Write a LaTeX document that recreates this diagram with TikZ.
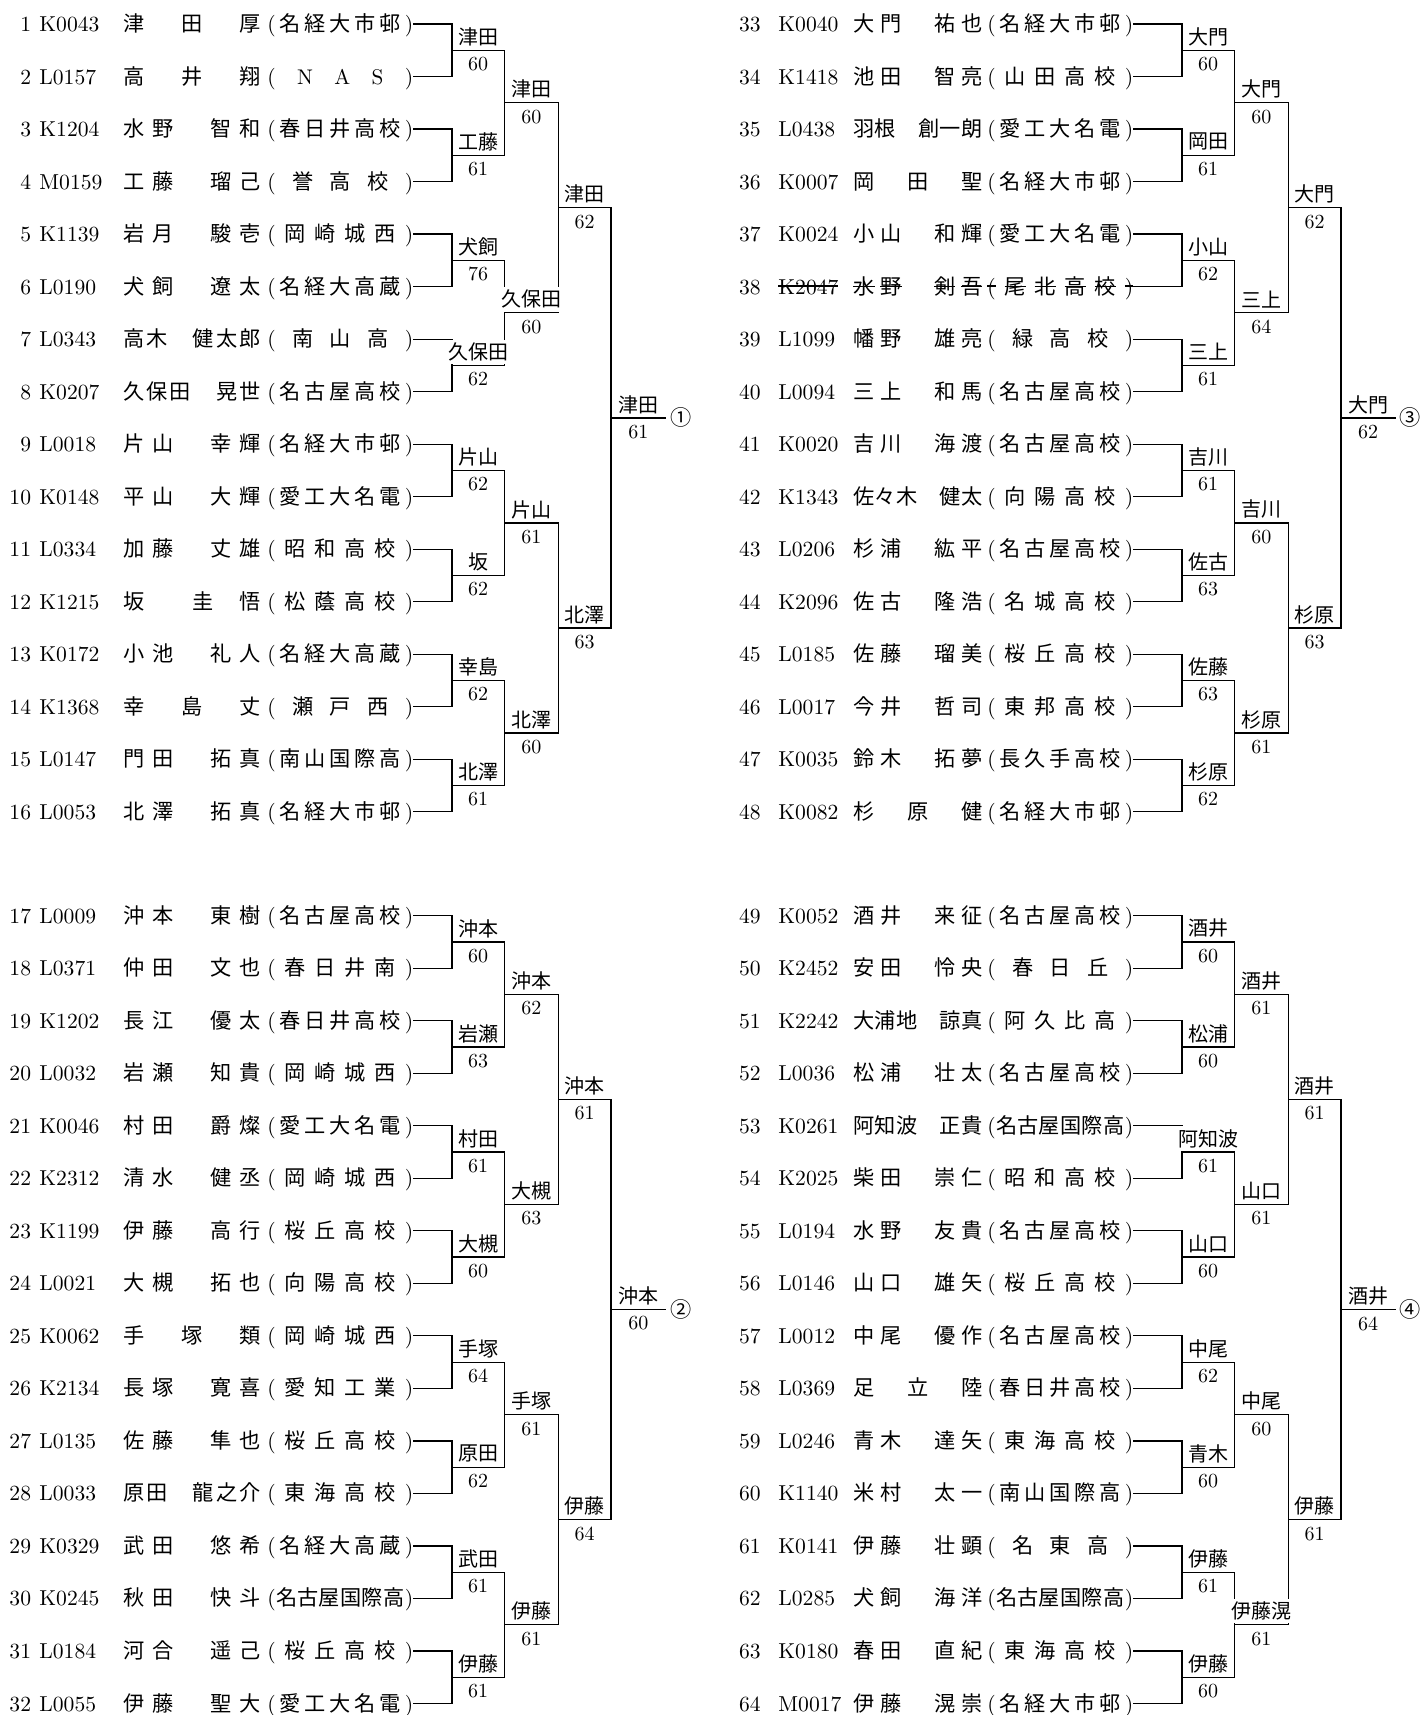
\documentclass[tikz,border=0pt]{standalone}
\usepackage{fontspec}
\newfontfamily\jp{Noto Sans CJK JP}
\usetikzlibrary{calc}
\pgfdeclarelayer{fg}
\pgfsetlayers{main,fg}
\newcommand\jpr{\jp\fontsize{10.6}{13}\selectfont}
\def\chk#1{#1}
\def\stk#1{\setbox0\hbox{#1}\rlap{\rule[0.34em]{\wd0}{0.65pt}}\box0}
\def\spread#1{\spreadB#1\relax}
\def\spreadB#1{\spreadX{#1}\spreadC}
\def\spreadC#1{\ifx\relax#1\else\hfill\spreadX{#1}\expandafter\spreadC\fi}
\def\spreadX#1{\ifx-#1\hbox to 1em{}\else\chk{#1}\fi}
\def\affsp#1{\affA#1\relax}
\def\affA#1{\ifx\relax#1\hfill\else\hfill\chk{#1}\expandafter\affA\fi}
\def\colLa{452}\def\colLb{504.3}\def\colLc{558.3}\def\colLd{611}\def\colLe{665.7}
\def\colRa{1182}\def\colRb{1234.3}\def\colRc{1288.3}\def\colRd{1341}\def\colRe{1395.2}
\tikzset{
 ln/.style={line width=0.6pt, line cap=rect},
 rt/.style={inner sep=0pt, font=\fontsize{10.8}{13}\selectfont},
 lbl/.style={anchor=south, fill=white, inner sep=0pt, minimum height=12.2pt, yshift=0.45pt, font=\jp\fontsize{10}{12}\selectfont},
 scr/.style={anchor=north, inner sep=0pt, minimum height=12.6pt, yshift=-0.45pt, font=\fontsize{10}{12}\selectfont},
 circ/.style={anchor=west, inner sep=0pt, xshift=2pt, font=\jp\fontsize{10.6}{12}\selectfont}
}
\newcommand\rowL[6][]{%
 \pgfmathsetmacro\yy{\ybase+#2*52.52}%
 \coordinate (p#3) at (\colLa,\yy);
 \node[rt,anchor=base east] (n#3) at (31.5,{\yy+7.5}) {#3};
 \node[rt,anchor=base west] (c#3) at (39,{\yy+7.5}) {#1\chk{#4}};
 \node[rt,anchor=base west] (m#3) at (123,{\yy+7.5}) {#1\jpr\makebox[68.5pt][l]{\spread{#5}}};
 \node[rt,anchor=base west] (a#3) at (267,{\yy+7.5}) {#1\chk{(}\makebox[64.5pt]{\jpr\affsp{#6}}\chk{)}};
 \draw[ln] (a#3.east |- p#3) -- (p#3);
}
\newcommand\rowR[6][]{%
 \pgfmathsetmacro\yy{\ybase+#2*52.52}%
 \coordinate (p#3) at (\colRa,\yy);
 \node[rt,anchor=base east] (n#3) at (761,{\yy+7.5}) {#3};
 \node[rt,anchor=base west] (c#3) at (778,{\yy+7.5}) {#1\chk{#4}};
 \node[rt,anchor=base west] (m#3) at (853,{\yy+7.5}) {#1\jpr\makebox[64.5pt][l]{\spread{#5}}};
 \node[rt,anchor=base west] (a#3) at (987,{\yy+7.5}) {#1\chk{(}\makebox[64.5pt]{\jpr\affsp{#6}}\chk{)}};
 \draw[ln] (a#3.east |- p#3) -- (p#3);
}
\newcommand\bmatch[6]{%
 \draw[ln] (#1) -- (#2);
 \coordinate (#3s) at ($(#1)!0.5!(#2)$);
 \coordinate (#3) at (#3s -| #4,0);
 \draw[ln] (#3s) -- (#3);
 \begin{pgfonlayer}{fg}
 \node[lbl] (#3l) at ($(#3s)!0.5!(#3)$) {#5};
 \node[scr] (#3n) at ($(#3s)!0.5!(#3)$) {#6};
 \end{pgfonlayer}}
\begin{document}
\begin{tikzpicture}[x=0.5pt,y=-0.5pt]
\fill[white] (0,0) rectangle (1421,1715);
\useasboundingbox (0,0) rectangle (1421,1715);
% ---------- top left ----------
\def\ybase{24}
\rowL{0}{1}{K0043}{津-田-厚}{名経大市邨}
\rowL{1}{2}{L0157}{高-井-翔}{{\rmfamily N}{\rmfamily A}{\rmfamily S}}
\rowL{2}{3}{K1204}{水野-智和}{春日井高校}
\rowL{3}{4}{M0159}{工藤-瑠己}{誉高校}
\rowL{4}{5}{K1139}{岩月-駿壱}{岡崎城西}
\rowL{5}{6}{L0190}{犬飼-遼太}{名経大高蔵}
\rowL{6}{7}{L0343}{高木-健太郎}{南山高}
\rowL{7}{8}{K0207}{久保田-晃世}{名古屋高校}
\rowL{8}{9}{L0018}{片山-幸輝}{名経大市邨}
\rowL{9}{10}{K0148}{平山-大輝}{愛工大名電}
\rowL{10}{11}{L0334}{加藤-丈雄}{昭和高校}
\rowL{11}{12}{K1215}{坂--圭-悟}{松蔭高校}
\rowL{12}{13}{K0172}{小池-礼人}{名経大高蔵}
\rowL{13}{14}{K1368}{幸-島-丈}{瀬戸西}
\rowL{14}{15}{L0147}{門田-拓真}{南山国際高}
\rowL{15}{16}{L0053}{北澤-拓真}{名経大市邨}
% ---------- bottom left ----------
\def\ybase{915.7}
\rowL{0}{17}{L0009}{沖本-東樹}{名古屋高校}
\rowL{1}{18}{L0371}{仲田-文也}{春日井南}
\rowL{2}{19}{K1202}{長江-優太}{春日井高校}
\rowL{3}{20}{L0032}{岩瀬-知貴}{岡崎城西}
\rowL{4}{21}{K0046}{村田-爵燦}{愛工大名電}
\rowL{5}{22}{K2312}{清水-健丞}{岡崎城西}
\rowL{6}{23}{K1199}{伊藤-高行}{桜丘高校}
\rowL{7}{24}{L0021}{大槻-拓也}{向陽高校}
\rowL{8}{25}{K0062}{手-塚-類}{岡崎城西}
\rowL{9}{26}{K2134}{長塚-寛喜}{愛知工業}
\rowL{10}{27}{L0135}{佐藤-隼也}{桜丘高校}
\rowL{11}{28}{L0033}{原田-龍之介}{東海高校}
\rowL{12}{29}{K0329}{武田-悠希}{名経大高蔵}
\rowL{13}{30}{K0245}{秋田-快斗}{名古屋国際高}
\rowL{14}{31}{L0184}{河合-遥己}{桜丘高校}
\rowL{15}{32}{L0055}{伊藤-聖大}{愛工大名電}
% ---------- top right ----------
\def\ybase{24}
\rowR{0}{33}{K0040}{大門-祐也}{名経大市邨}
\rowR{1}{34}{K1418}{池田-智亮}{山田高校}
\rowR{2}{35}{L0438}{羽根-創一朗}{愛工大名電}
\rowR{3}{36}{K0007}{岡-田-聖}{名経大市邨}
\rowR{4}{37}{K0024}{小山-和輝}{愛工大名電}
\rowR[\let\chk\stk]{5}{38}{K2047}{水野-剣吾}{尾北高校}
\rowR{6}{39}{L1099}{幡野-雄亮}{緑高校}
\rowR{7}{40}{L0094}{三上-和馬}{名古屋高校}
\rowR{8}{41}{K0020}{吉川-海渡}{名古屋高校}
\rowR{9}{42}{K1343}{佐々木-健太}{向陽高校}
\rowR{10}{43}{L0206}{杉浦-紘平}{名古屋高校}
\rowR{11}{44}{K2096}{佐古-隆浩}{名城高校}
\rowR{12}{45}{L0185}{佐藤-瑠美}{桜丘高校}
\rowR{13}{46}{L0017}{今井-哲司}{東邦高校}
\rowR{14}{47}{K0035}{鈴木-拓夢}{長久手高校}
\rowR{15}{48}{K0082}{杉-原-健}{名経大市邨}
% ---------- bottom right ----------
\def\ybase{915.7}
\rowR{0}{49}{K0052}{酒井-来征}{名古屋高校}
\rowR{1}{50}{K2452}{安田-怜央}{春日丘}
\rowR{2}{51}{K2242}{大浦地-諒真}{阿久比高}
\rowR{3}{52}{L0036}{松浦-壮太}{名古屋高校}
\rowR{4}{53}{K0261}{阿知波-正貴}{名古屋国際高}
\rowR{5}{54}{K2025}{柴田-崇仁}{昭和高校}
\rowR{6}{55}{L0194}{水野-友貴}{名古屋高校}
\rowR{7}{56}{L0146}{山口-雄矢}{桜丘高校}
\rowR{8}{57}{L0012}{中尾-優作}{名古屋高校}
\rowR{9}{58}{L0369}{足-立-陸}{春日井高校}
\rowR{10}{59}{L0246}{青木-達矢}{東海高校}
\rowR{11}{60}{K1140}{米村-太一}{南山国際高}
\rowR{12}{61}{K0141}{伊藤-壮顕}{名東高}
\rowR{13}{62}{L0285}{犬飼-海洋}{名古屋国際高}
\rowR{14}{63}{K0180}{春田-直紀}{東海高校}
\rowR{15}{64}{M0017}{伊藤-滉崇}{名経大市邨}
% ---------- bracket A (top left) ----------
\bmatch{p1}{p2}{A11}{\colLb}{津田}{60}
\bmatch{p3}{p4}{A12}{\colLb}{工藤}{61}
\bmatch{p5}{p6}{A13}{\colLb}{犬飼}{76}
\bmatch{p7}{p8}{A14}{\colLb}{久保田}{62}
\bmatch{p9}{p10}{A15}{\colLb}{片山}{62}
\bmatch{p11}{p12}{A16}{\colLb}{坂}{62}
\bmatch{p13}{p14}{A17}{\colLb}{幸島}{62}
\bmatch{p15}{p16}{A18}{\colLb}{北澤}{61}
\bmatch{A11}{A12}{A21}{\colLc}{津田}{60}
\bmatch{A13}{A14}{A22}{\colLc}{久保田}{60}
\bmatch{A15}{A16}{A23}{\colLc}{片山}{61}
\bmatch{A17}{A18}{A24}{\colLc}{北澤}{60}
\bmatch{A21}{A22}{A31}{\colLd}{津田}{62}
\bmatch{A23}{A24}{A32}{\colLd}{北澤}{63}
\bmatch{A31}{A32}{A4}{\colLe}{津田}{61}
\node[circ] (A5) at (A4) {①};
% ---------- bracket B (bottom left) ----------
\bmatch{p17}{p18}{B11}{\colLb}{沖本}{60}
\bmatch{p19}{p20}{B12}{\colLb}{岩瀬}{63}
\bmatch{p21}{p22}{B13}{\colLb}{村田}{61}
\bmatch{p23}{p24}{B14}{\colLb}{大槻}{60}
\bmatch{p25}{p26}{B15}{\colLb}{手塚}{64}
\bmatch{p27}{p28}{B16}{\colLb}{原田}{62}
\bmatch{p29}{p30}{B17}{\colLb}{武田}{61}
\bmatch{p31}{p32}{B18}{\colLb}{伊藤}{61}
\bmatch{B11}{B12}{B21}{\colLc}{沖本}{62}
\bmatch{B13}{B14}{B22}{\colLc}{大槻}{63}
\bmatch{B15}{B16}{B23}{\colLc}{手塚}{61}
\bmatch{B17}{B18}{B24}{\colLc}{伊藤}{61}
\bmatch{B21}{B22}{B31}{\colLd}{沖本}{61}
\bmatch{B23}{B24}{B32}{\colLd}{伊藤}{64}
\bmatch{B31}{B32}{B4}{\colLe}{沖本}{60}
\node[circ] (B5) at (B4) {②};
% ---------- bracket C (top right) ----------
\bmatch{p33}{p34}{C11}{\colRb}{大門}{60}
\bmatch{p35}{p36}{C12}{\colRb}{岡田}{61}
\bmatch{p37}{p38}{C13}{\colRb}{小山}{62}
\bmatch{p39}{p40}{C14}{\colRb}{三上}{61}
\bmatch{p41}{p42}{C15}{\colRb}{吉川}{61}
\bmatch{p43}{p44}{C16}{\colRb}{佐古}{63}
\bmatch{p45}{p46}{C17}{\colRb}{佐藤}{63}
\bmatch{p47}{p48}{C18}{\colRb}{杉原}{62}
\bmatch{C11}{C12}{C21}{\colRc}{大門}{60}
\bmatch{C13}{C14}{C22}{\colRc}{三上}{64}
\bmatch{C15}{C16}{C23}{\colRc}{吉川}{60}
\bmatch{C17}{C18}{C24}{\colRc}{杉原}{61}
\bmatch{C21}{C22}{C31}{\colRd}{大門}{62}
\bmatch{C23}{C24}{C32}{\colRd}{杉原}{63}
\bmatch{C31}{C32}{C4}{\colRe}{大門}{62}
\node[circ] (C5) at (C4) {③};
% ---------- bracket D (bottom right) ----------
\bmatch{p49}{p50}{D11}{\colRb}{酒井}{60}
\bmatch{p51}{p52}{D12}{\colRb}{松浦}{60}
\bmatch{p53}{p54}{D13}{\colRb}{阿知波}{61}
\bmatch{p55}{p56}{D14}{\colRb}{山口}{60}
\bmatch{p57}{p58}{D15}{\colRb}{中尾}{62}
\bmatch{p59}{p60}{D16}{\colRb}{青木}{60}
\bmatch{p61}{p62}{D17}{\colRb}{伊藤}{61}
\bmatch{p63}{p64}{D18}{\colRb}{伊藤}{60}
\bmatch{D11}{D12}{D21}{\colRc}{酒井}{61}
\bmatch{D13}{D14}{D22}{\colRc}{山口}{61}
\bmatch{D15}{D16}{D23}{\colRc}{中尾}{60}
\bmatch{D17}{D18}{D24}{\colRc}{伊藤滉}{61}
\bmatch{D21}{D22}{D31}{\colRd}{酒井}{61}
\bmatch{D23}{D24}{D32}{\colRd}{伊藤}{61}
\bmatch{D31}{D32}{D4}{\colRe}{酒井}{64}
\node[circ] (D5) at (D4) {④};
\end{tikzpicture}
\end{document}
